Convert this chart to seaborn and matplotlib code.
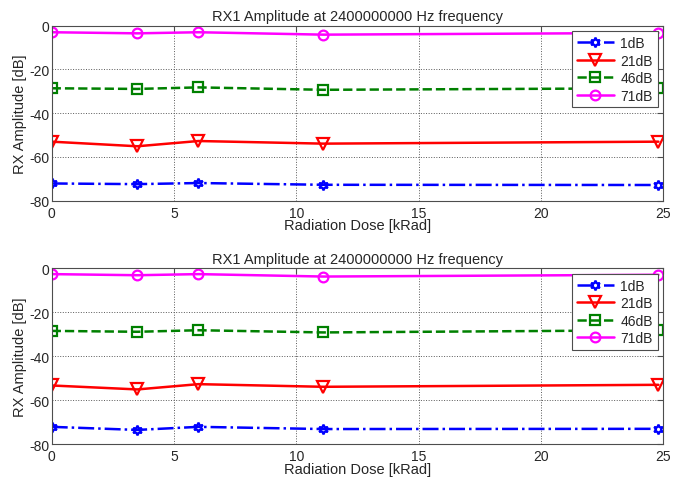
import numpy as np
import pandas as pd
import matplotlib
matplotlib.use('Agg')
import matplotlib.pyplot as plt
import seaborn as sns

dose = [0, 3.5, 6, 11.1, 24.8]
labels = ['1dB', '21dB', '46dB', '71dB']

top_1db = [-72.1, -72.4, -71.9, -72.7, -72.8]
top_21db = [-53.0, -55.1, -52.7, -53.9, -53.0]
top_46db = [-28.6, -28.9, -28.2, -29.3, -28.6]
top_71db = [-3.0, -3.5, -3.0, -4.1, -3.3]

bot_1db = [-72.1, -73.5, -72.1, -73.1, -73.0]
bot_21db = [-53.3, -55.1, -52.7, -53.9, -53.0]
bot_46db = [-28.5, -28.9, -28.2, -29.2, -28.2]
bot_71db = [-2.7, -3.2, -2.7, -3.8, -3.0]

colors = ['#0000ff', '#ff0000', '#008000', '#ff00ff']
markers = [(6, 1, 0), 'v', 's', 'o']
styles = ['-.', '-', '--', '-']

sns.set_style('white')
plt.rcParams['font.family'] = ['Liberation Sans', 'DejaVu Sans']

fig = plt.figure(figsize=(6.73, 4.85), dpi=100)
ax1 = fig.add_axes([0.0768, 0.584, 0.9088, 0.361])
ax2 = fig.add_axes([0.0768, 0.082, 0.9088, 0.363])

panels = [(ax1, [top_1db, top_21db, top_46db, top_71db]),
          (ax2, [bot_1db, bot_21db, bot_46db, bot_71db])]

for ax, series in panels:
    for vals, lab, c, m, ls in zip(series, labels, colors, markers, styles):
        df = pd.DataFrame({'dose': dose, 'amp': vals})
        ms = 8 if m == 'v' else 7
        sns.lineplot(data=df, x='dose', y='amp', ax=ax, label=lab, color=c,
                     marker=m, linestyle=ls, linewidth=1.8, markersize=ms,
                     markerfacecolor='none', markeredgecolor=c,
                     markeredgewidth=1.6)
    ax.set_xlim(0, 25)
    ax.set_ylim(-80, 0)
    ax.set_xticks([0, 5, 10, 15, 20, 25])
    ax.set_yticks([0, -20, -40, -60, -80])
    ax.set_yticklabels(['0', '-20', '-40', '-60', '-80'])
    ax.grid(True, linestyle=':', color='0.35', linewidth=0.7)
    ax.tick_params(direction='in', top=True, right=True, labelsize=10,
                   length=4, color='0.3')
    ax.tick_params(axis='y', pad=1.5)
    ax.tick_params(axis='x', pad=3.5)
    for s in ax.spines.values():
        s.set_color('0.3')
        s.set_linewidth(0.8)
    ax.set_title('RX1 Amplitude at 2400000000 Hz frequency', fontsize=10.5, pad=4)
    ax.set_xlabel('Radiation Dose [kRad]', fontsize=10.5, labelpad=-1)
    ax.set_ylabel('RX Amplitude [dB]', fontsize=10.5, labelpad=2)
    leg = ax.legend(loc='upper right', fontsize=10, handlelength=2.7,
                    fancybox=False, framealpha=1, edgecolor='0.3',
                    borderpad=0.35, labelspacing=0.25, handletextpad=0.45,
                    borderaxespad=0.4)
    leg.get_frame().set_linewidth(0.8)

fig.savefig('out.png', dpi=100)
